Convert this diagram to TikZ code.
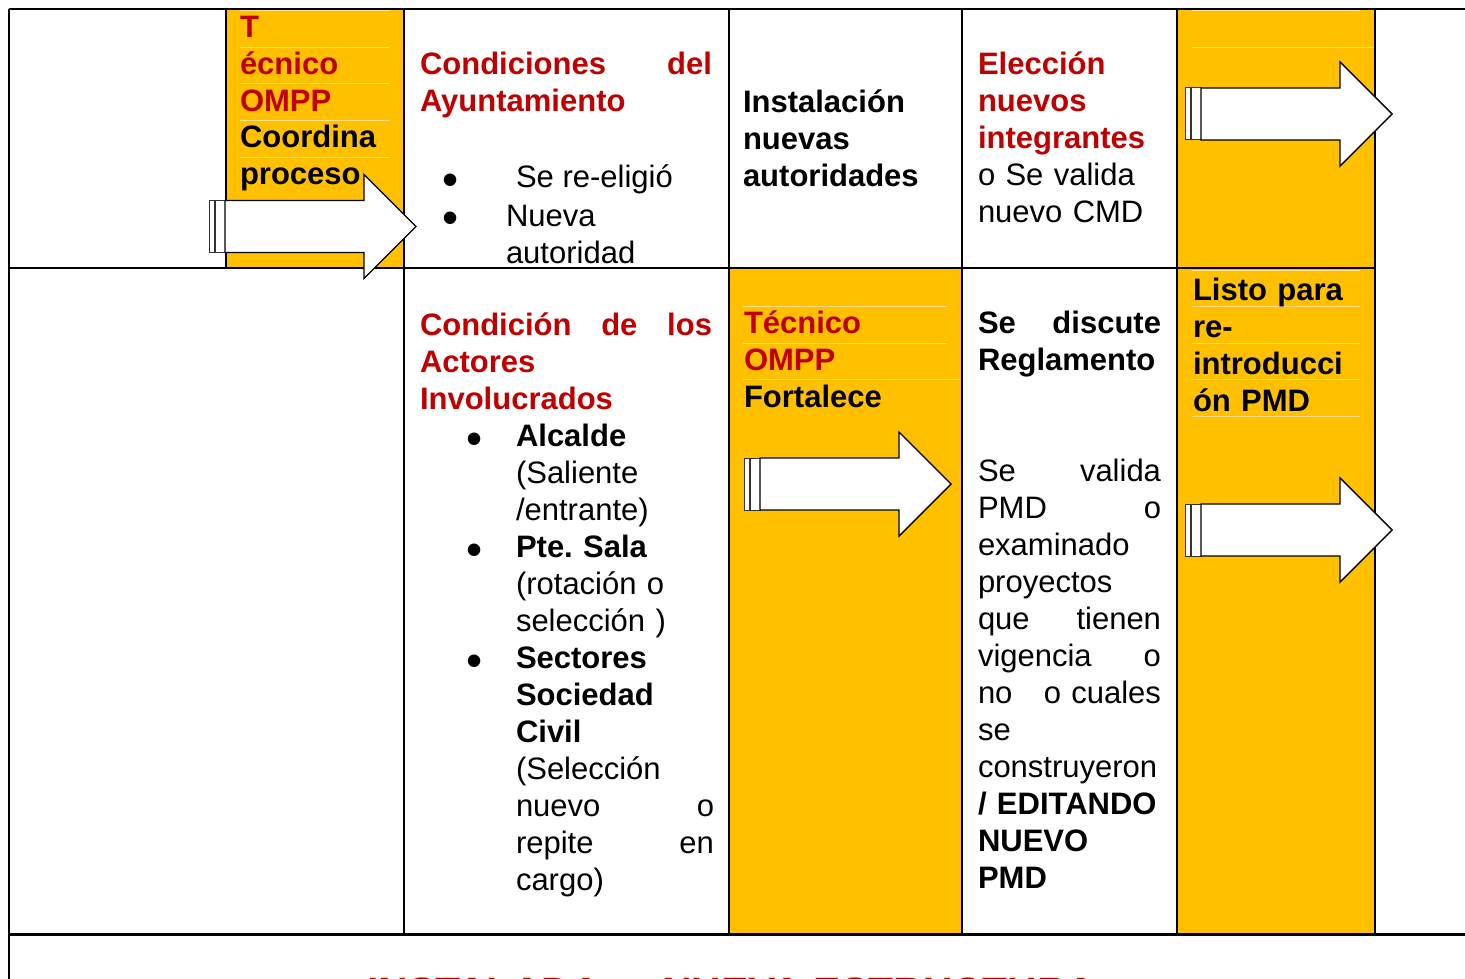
\documentclass[tikz,border=0pt]{standalone}
\usepackage{fontspec}
\setmainfont{Liberation Sans}
\frenchspacing
\definecolor{gold}{HTML}{FFC000}
\definecolor{dred}{HTML}{C00000}
\definecolor{rulec}{HTML}{FFE08A}
\newcommand{\jline}[1]{\leavevmode\hbox to\linewidth{#1}}
\newcommand{\stripedarrow}[2]{%
  \draw[stripe] (#1,#2-26) rectangle (#1+5,#2+26);
  \draw[stripe] (#1+6.5,#2-26) rectangle (#1+16,#2+26);
  \draw[bigarrow] (#1+16,#2-26) -- (#1+155,#2-26) -- (#1+155,#2-52) -- (#1+207,#2)
     -- (#1+155,#2+52) -- (#1+155,#2+26) -- (#1+16,#2+26) -- cycle;}
\tikzset{
  cellline/.style={line width=1.4pt, draw=black},
  thickline/.style={line width=3pt, draw=black},
  faint/.style={draw=rulec, line width=0.9pt},
  txt/.style={anchor=base west, inner sep=0pt, outer sep=0pt, align=left,
     font=\fontsize{31}{37}\selectfont},
  blk/.style={txt, text width=#1},
  bul/.style={anchor=base, inner sep=0pt, font=\fontsize{46}{46}\selectfont},
  bigarrow/.style={fill=white, draw=black, line width=1.4pt, line join=miter},
  stripe/.style={fill=white, draw=black!80, line width=1pt},
}
\begin{document}
\begin{tikzpicture}[x=1pt,y=-1pt]
\useasboundingbox (0,0) rectangle (1465,979);
% yellow cells
\fill[gold] (226,9) rectangle (404,268);
\fill[gold] (1177,9) rectangle (1375,268);
\fill[gold] (729,268) rectangle (962,934);
\fill[gold] (1177,268) rectangle (1375,934);
% faint rules in yellow cells
\foreach \yy in {10,47,83,120,157} \draw[faint] (240,\yy) -- (390,\yy);
\draw[faint] (1192,10) -- (1360,10);
\draw[faint] (1192,47) -- (1375,47);
\foreach \yy in {306,343} \draw[faint] (743,\yy) -- (947,\yy);
\draw[faint] (743,379) -- (960,379);
\foreach \yy in {270,306,343,379,416} \draw[faint] (1192,\yy) -- (1360,\yy);
% table lines
\draw[cellline] (9,9) -- (1465,9);
\draw[cellline] (9,268) -- (1375,268);
\draw[thickline] (9,934) -- (1465,934);
\draw[cellline] (9,9) -- (9,979);
\draw[cellline] (226,9) -- (226,268);
\foreach \xx in {404,729,962,1177,1375} \draw[cellline] (\xx,9) -- (\xx,934);
% row 1 texts
\node[blk=160pt] (a1) at (240,38) {\fontsize{31}{36.6}\selectfont\bfseries\color{dred}T\\écnico\\OMPP\\\color{black}Coordina\\proceso};
\node[blk=292pt] (b1) at (420,75) {\bfseries\color{dred}\jline{Condiciones\hfill del}\\Ayuntamiento};
\node[blk=20pt, font=\fontsize{46}{38}\selectfont] (bu1) at (442,196) {•\\•};
\node[txt] (b2) at (516,188) {Se re-eligió};
\node[blk=200pt] (b3) at (506,226) {\fontsize{31}{36}\selectfont Nueva\\autoridad};
\node[blk=200pt] (c1) at (743,113) {\bfseries Instalación\\nuevas\\autoridades};
\node[blk=190pt] (d1) at (978,75) {{\bfseries\color{dred}Elección\\nuevos\\integrantes}\\o Se valida\\nuevo CMD};
% row 2 texts
\node[blk=292pt] (b4) at (420,335) {\bfseries\color{dred}\jline{Condición\hfill de\hfill los}\\Actores\\Involucrados};
\node[bul] (bu3) at (475,454) {•};
\node[bul] (bu4) at (475,565) {•};
\node[bul] (bu5) at (475,676) {•};
\node[blk=198pt] (b5) at (516,446) {\textbf{Alcalde}\\(Saliente\\/entrante)\\\textbf{Pte. Sala}\\(rotación o\\selección )\\\textbf{Sectores}\\\textbf{Sociedad}\\\textbf{Civil}\\(Selección\\\jline{nuevo\hfill o}\\\jline{repite\hfill en}\\cargo)};
\node[blk=200pt] (c2) at (744,333) {\bfseries{\color{dred}Técnico\\OMPP}\\Fortalece};
\node[blk=183pt] (d2) at (978,333) {\textbf{\jline{Se\hfill discute}}\\\textbf{Reglamento}\\[74pt]\jline{Se\hfill valida}\\\jline{PMD\hfill o}\\examinado\\proyectos\\\jline{que\hfill tienen}\\\jline{vigencia\hfill o}\\\jline{no\hfill o cuales}\\se\\construyeron\\\textbf{/ EDITANDO}\\\textbf{NUEVO}\\\textbf{PMD}};
\node[blk=170pt] (e2) at (1193,300) {\bfseries Listo para\\re-\\introducci\\ón PMD};
% row 3 (cut off at the lower edge, as in the reference)
\node[txt, font=\fontsize{41}{41}\selectfont\bfseries, text=dred] (f1) at (367,1006) {INSTALADA};
\node[txt, font=\fontsize{41}{41}\selectfont\bfseries, text=dred] (f2) at (662,1006) {NUEVA ESTRUCTURA};
% arrows
\stripedarrow{209}{226.5}
\stripedarrow{1185}{114}
\stripedarrow{744}{484}
\stripedarrow{1185}{530}
\end{tikzpicture}
\end{document}
